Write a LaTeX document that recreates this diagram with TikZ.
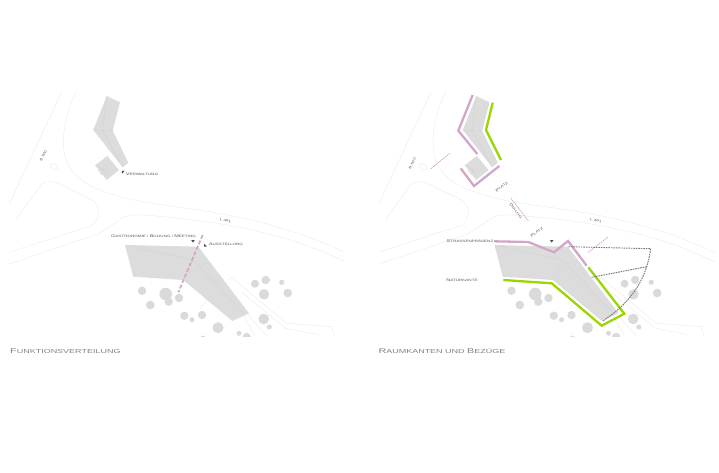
\documentclass[tikz,border=0pt]{standalone}
\usepackage{fontspec}
\setmainfont{Liberation Sans}
\usetikzlibrary{calc}
\definecolor{buildgray}{HTML}{DCDCDC}
\definecolor{treegray}{HTML}{DADADA}
\definecolor{roadgray}{HTML}{EDEDED}
\definecolor{edgepink}{HTML}{D2A6C8}
\definecolor{edgegreen}{HTML}{9AD600}
\definecolor{labelgray}{HTML}{555555}
\newcommand{\capfirst}[1]{\scalebox{1.2}{#1}}
\newcommand{\widelabel}[1]{\scalebox{1.42}[1]{#1}}
\newcommand{\widetitle}[1]{\scalebox{1.55}[1]{#1}}
\tikzstyle{road} = [draw=roadgray, line width=0.5pt]
\tikzstyle{building} = [fill=buildgray, draw=none]
\tikzstyle{inner} = [draw=black!18, line width=0.3pt]
\tikzstyle{tree} = [fill=treegray, draw=none]
\tikzstyle{smalllabel} = [text=labelgray, inner sep=0pt, font=\fontsize{3.2}{3.2}\selectfont]
\tikzstyle{titlelabel} = [text=black!50, inner sep=0pt, anchor=west, font=\fontsize{5.8}{6}\selectfont]
\tikzstyle{pinkedge} = [draw=edgepink, line width=2.3pt, line join=miter]
\tikzstyle{greenedge} = [draw=edgegreen, line width=2.3pt, line join=miter]
\tikzstyle{sightline} = [draw=edgepink, line width=0.8pt, dash pattern=on 1.5pt off 0.8pt]
\tikzstyle{viewline} = [draw=black!55, line width=0.9pt, dash pattern=on 1.6pt off 0.9pt]
\tikzstyle{marker} = [fill=black!70, draw=none]

\begin{document}
\begin{tikzpicture}[x=1pt, y=-1pt]
\useasboundingbox (0,0) rectangle (719,472);

% base plan, drawn twice
\foreach \planx in {0,369.5} {
\begin{scope}[xshift=\planx pt]
\draw [road] (61.7,91.7) -- (9.3,204);
\draw [road] (76.7,90.7) .. controls (62,120) and (60,150) .. (68.3,165) .. controls (76,180) and (90,186) .. (100,190) .. controls (125,200) and (150,203) .. (180,207.3) .. controls (240,215) and (300,230) .. (345,252.7);
\draw [road] (16,219.3) -- (41.7,184) .. controls (45,181) and (52,181) .. (56.7,182.7) -- (92,200) .. controls (100,205) and (102,216) .. (93,225) -- (9.3,252.3);
\draw [road] (119.3,220) -- (98.3,234) -- (9.3,264);
\draw [road] (120,219.3) .. controls (126,215) and (135,214) .. (150,215.5) .. controls (230,222) and (290,235) .. (345,261.7);
\draw [road] (50,164) -- (55,163.3) -- (58.3,169.3) -- (53,170) -- cycle;
\draw [road] (228,280) -- (231.7,277.3) -- (286.7,323.3) -- (331.7,326.7) -- (334.3,336);
\draw [road] (242.3,292.7) -- (285.7,328.3) -- (320,335);
\draw [road] (248.3,315) -- (266.7,336);
\draw [road] (244,316.7) -- (255,336);
\draw [road] (200,309) -- (207,300);

\fill [building] (106.7,96) -- (120,102.3) -- (112.7,130.7) -- (128.3,162.7) -- (122.7,167.3) -- (93.3,130) -- cycle;
\fill [building] (107.3,156) -- (119,170) -- (106.7,180) -- (95.3,165.3) -- cycle;
\fill [building] (125,245) -- (198.3,246.7) -- (249,313.3) -- (232.3,321) -- (183.3,280) -- (133.3,276.7) -- cycle;
\draw [inner] (106.7,96) -- (102.7,130.5) -- (122.7,167.3);
\draw [inner] (93.3,130) -- (112.7,130.7);
\draw [inner] (95.3,165.3) -- (103,169) -- (107.3,176);
\draw [inner] (98.3,170) -- (104,169.3) -- (101.7,175) -- cycle;
\draw [inner] (125,245) -- (193.3,260) -- (243,313);
\draw [inner] (193.3,260) -- (183.3,280);

\foreach \tx/\ty/\tr in {255/283.7/4,265.7/280/4.2,281.7/282.3/2.6,287.7/293/4.3,264/294.3/5.2,142/290.7/4.2,165.7/294/6.3,168.7/301.7/4.2,150.3/305/4.3,179/298/4.2,184.3/315.7/4.2,192/319.7/2.5,202/315/4.2,218/327.7/5.5,263.7/319/5.3,269.3/327/2.6,239/333.3/2.5}
  \fill [tree] (\tx,\ty) circle (\tr);
\begin{scope}
\clip (200,330) rectangle (260,336);
\fill [tree] (246.7,337) circle (4.2);
\fill [tree] (203,338) circle (2.5);
\end{scope}
\end{scope}
}

% left: functions
\draw [draw=edgepink, line width=1.7pt, dash pattern=on 4pt off 2pt] (202.7,235) -- (178.3,292.3);
\fill [marker] (191.2,240) -- (194.8,240) -- (193,242.6) -- cycle;
\fill [marker] (204,243.6) -- (206.8,246.6) -- (204,246.6) -- cycle;
\fill [marker] (121.8,170.8) -- (124.8,170.8) -- (122,173.6) -- cycle;
\node (gastro) [smalllabel] at (153.5,236.3) {\widelabel{\capfirst{G}ASTRONOMIE / \capfirst{B}ILDUNG / \capfirst{M}EETING}};
\node (ausst) [smalllabel] at (226,244.3) {\widelabel{\capfirst{A}USSTELLUNG}};
\node (verw) [smalllabel] at (142,173.7) {\widelabel{\capfirst{V}ERWALTUNG}};
\node (roadleft) [smalllabel, rotate=63] at (43.3,156) {\widelabel{B 500}};
\node (l401left) [smalllabel, rotate=-10] at (225.5,220.5) {\widelabel{L 401}};
\node (titleleft) [titlelabel] at (10,350.7) {\widetitle{\capfirst{F}UNKTIONSVERTEILUNG}};

% right: edges and relations
\draw [pinkedge] (472.7,95) -- (458.3,130.7) -- (477.3,154);
\draw [pinkedge] (460.7,168.3) -- (474,186) -- (499.3,166);
\draw [greenedge] (492.7,102.7) -- (486,130) -- (501,160);
\draw [pinkedge] (494,241.3) -- (528.3,242) -- (554,252.3) -- (568,241) -- (586.7,265.7);
\draw [greenedge] (503.3,280) -- (551.7,283.3) -- (601.7,325.7) -- (624.3,313.7) -- (588.3,267.3);
\draw [sightline] (430.7,168.7) -- (450,153.3);
\draw [sightline] (511,198.3) -- (528.3,221);
\draw [sightline] (607.7,237.3) -- (587.7,252.7);
\coordinate (viewa) at (568.3,246.7);
\coordinate (viewb) at (650.7,248.7);
\coordinate (viewc) at (646.7,266.7);
\coordinate (viewd) at (591.7,277.3);
\coordinate (viewe) at (602.7,321);
\draw [viewline] (viewa) -- (viewb) .. controls (647,275) and (635,300) .. (viewe);
\draw [viewline] (viewc) -- (viewd);
\fill [marker] (549.9,240) -- (553.5,240) -- (551.7,242.6) -- cycle;
\node (strasse) [smalllabel] at (470,241) {\widelabel{\capfirst{S}TRASSENPRÄSENZ}};
\node (natur) [smalllabel] at (462,280.3) {\widelabel{\capfirst{N}ATURKANTE}};
\node (platzup) [smalllabel, rotate=38] at (501.7,186.7) {\widelabel{\capfirst{P}LATZ}};
\node (platzlow) [smalllabel, rotate=38] at (536.7,232.3) {\widelabel{\capfirst{P}LATZ}};
\node (dialog) [smalllabel, rotate=-52] at (516,211) {\widelabel{\capfirst{D}IALOG}};
\node (roadright) [smalllabel, rotate=63] at (412.3,163.3) {\widelabel{B 500}};
\node (l401right) [smalllabel, rotate=-10] at (596,220.7) {\widelabel{L 401}};
\node (titleright) [titlelabel] at (378.3,350.7) {\widetitle{\capfirst{R}AUMKANTEN UND \capfirst{B}EZÜGE}};

\end{tikzpicture}
\end{document}
